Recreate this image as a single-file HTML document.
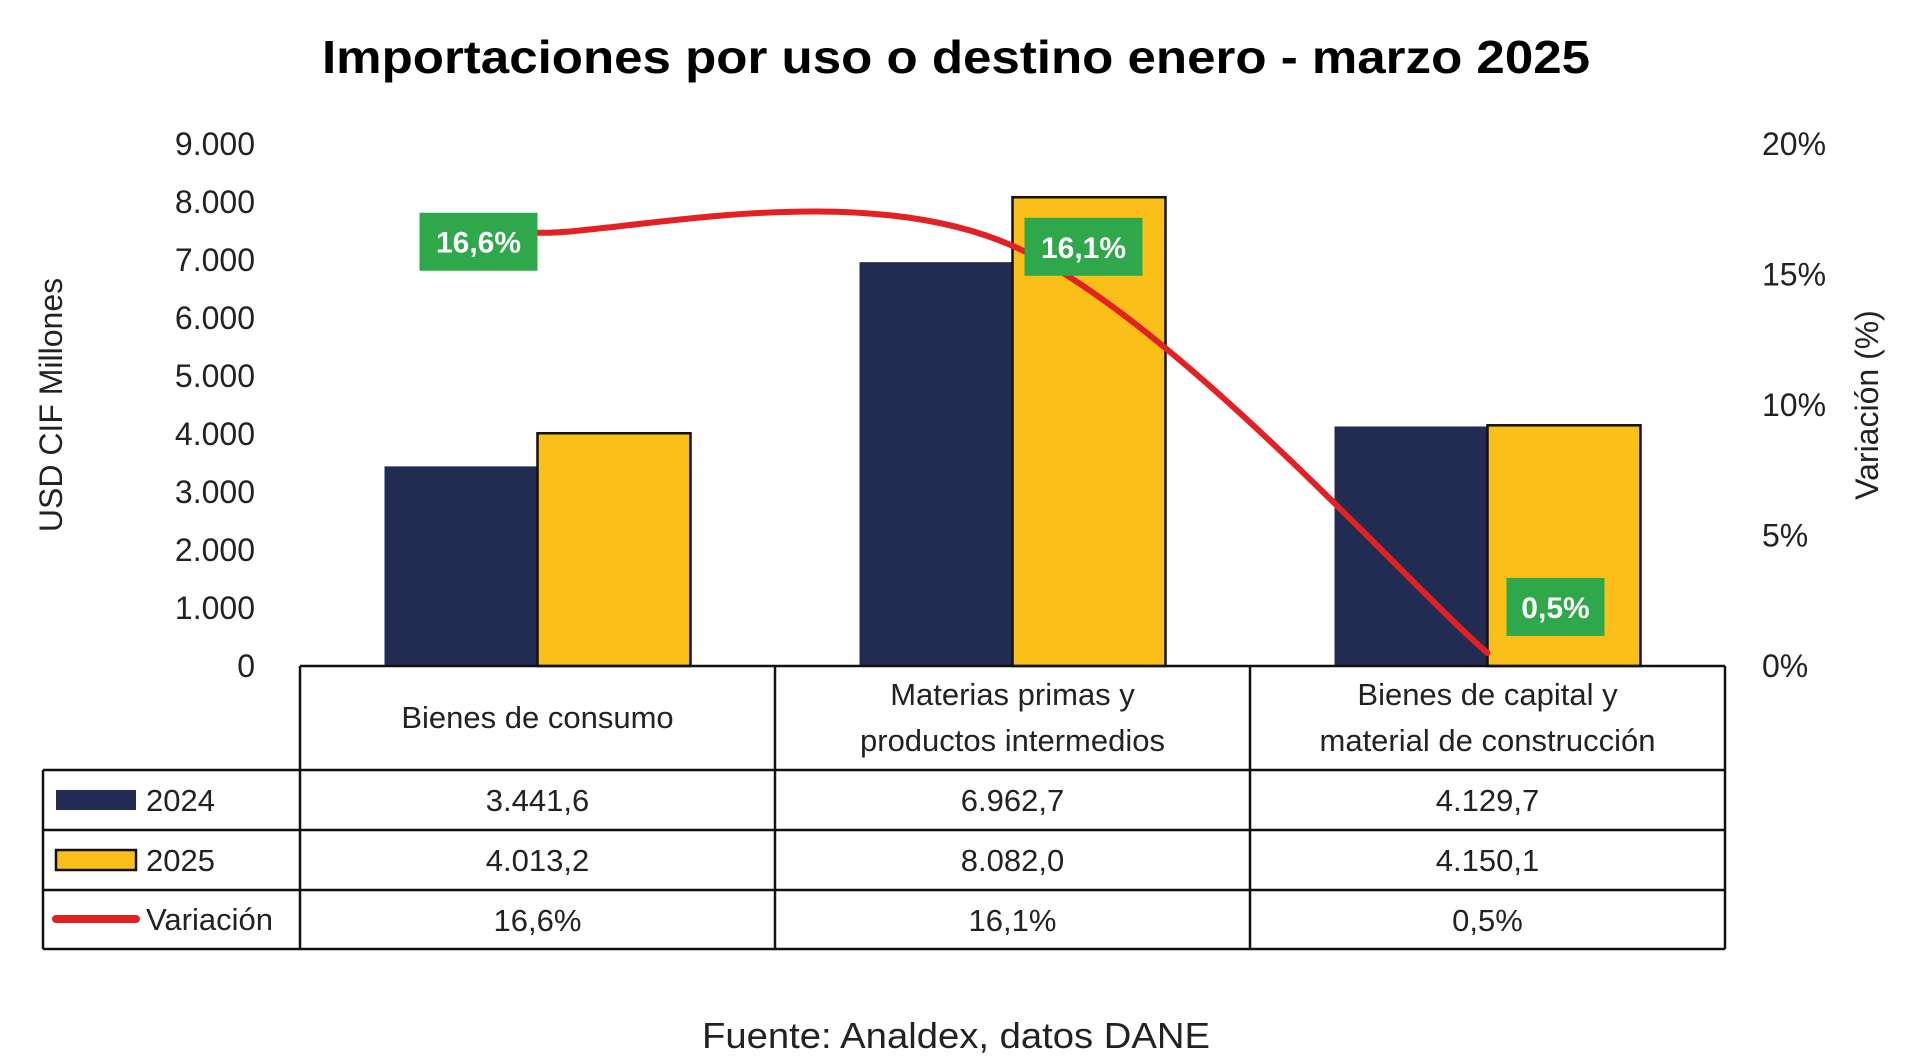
<!DOCTYPE html>
<html><head><meta charset="utf-8"><style>
html,body{margin:0;padding:0;background:#fff;}
svg{display:block;font-family:"Liberation Sans",sans-serif;}
</style></head><body>
<svg id="chart" width="1915" height="1062" viewBox="0 0 1915 1062" xmlns="http://www.w3.org/2000/svg">
<text x="956" y="73" text-anchor="middle" font-size="46" font-weight="bold" textLength="1268" lengthAdjust="spacingAndGlyphs">Importaciones por uso o destino enero - marzo 2025</text>
<text transform="translate(62,405) rotate(-90)" text-anchor="middle" font-size="32" fill="#222">USD CIF Millones</text>
<text transform="translate(1878,405) rotate(-90)" text-anchor="middle" font-size="32" fill="#222">Variación (%)</text>
<text x="956" y="1048" text-anchor="middle" font-size="36" fill="#222" textLength="508" lengthAdjust="spacingAndGlyphs">Fuente: Analdex, datos DANE</text>
<g id="g"></g>
</svg>
<script>
const categories = [["Bienes de consumo"], ["Materias primas y","productos intermedios"], ["Bienes de capital y","material de construcción"]];
const values2024 = [3441.6, 6962.7, 4129.7];
const values2025 = [4013.2, 8082.0, 4150.1];
const variation = [16.6, 16.1, 0.5];
const leftTicks = [0,1000,2000,3000,4000,5000,6000,7000,8000,9000];
const rightTicks = [0,5,10,15,20];
const t2024 = ["3.441,6","6.962,7","4.129,7"];
const t2025 = ["4.013,2","8.082,0","4.150,1"];
const tVar = ["16,6%","16,1%","0,5%"];

const NS="http://www.w3.org/2000/svg";
const g=document.getElementById('g');
function el(tag,attrs,parent){const e=document.createElementNS(NS,tag);for(const k in attrs)e.setAttribute(k,attrs[k]);(parent||g).appendChild(e);return e;}
const Y0=666, YT=144, X0=300, X1=1725;
const y=v=>Y0-(v/9000)*(Y0-YT);
const y2=v=>Y0-(v/20)*(Y0-YT);
const colW=(X1-X0)/categories.length;
const cx=i=>X0+colW*(i+0.5);
const BW=153;

leftTicks.forEach(t=>{
  const e=el('text',{x:255,y:y(t)+11,'text-anchor':'end','font-size':32,fill:'#222'});
  
  
  e.textContent=t===0?'0':(t/1000)+'.000';
});
rightTicks.forEach(t=>{
  const e=el('text',{x:1762,y:y2(t)+11,'font-size':32,fill:'#222'});
  
  
  e.textContent=t+'%';
});

categories.forEach((c,i)=>{
  const b1=el('rect',{x:cx(i)-BW,y:y(values2024[i]),width:BW,height:Y0-y(values2024[i]),fill:'#222b52'});
  
  
  const b2=el('rect',{x:cx(i),y:y(values2025[i]),width:BW,height:Y0-y(values2025[i]),fill:'#fbbf1a',stroke:'#111','stroke-width':2.5});
  
  
});

// smoothed line (Catmull-Rom)
const pts=variation.map((v,i)=>[cx(i),y2(v)]);
let d='M'+pts[0][0]+','+pts[0][1];
for(let i=0;i<pts.length-1;i++){
  const p0=pts[i-1]||pts[i],p1=pts[i],p2=pts[i+1],p3=pts[i+2]||pts[i+1];
  const c1=[p1[0]+(p2[0]-p0[0])/6,p1[1]+(p2[1]-p0[1])/6];
  const c2=[p2[0]-(p3[0]-p1[0])/6,p2[1]-(p3[1]-p1[1])/6];
  d+=' C'+c1+' '+c2+' '+p2;
}
const ln=el('path',{d:d,fill:'none',stroke:'#e32124','stroke-width':6,'stroke-linecap':'round'});



const offs=[[-118,-20],[12,-28],[19,-75]];
pts.forEach((p,i)=>{
  const bx=p[0]+offs[i][0], by=p[1]+offs[i][1];
  const w=i===2?98:118, h=58;
  const r=el('rect',{x:bx,y:by,width:w,height:h,fill:'#2ea84a'});
  
  
  const t=el('text',{x:bx+w/2,y:by+h/2+11,'text-anchor':'middle','font-size':30,'font-weight':'bold',fill:'#fff'});
  
  
  t.textContent=tVar[i];
});

// table
const rows=[666,770,830,890,949];
const tbl=el('g',{stroke:'#111','stroke-width':2.5});


el('line',{x1:X0,y1:rows[0],x2:X1,y2:rows[0]},tbl);
for(let r=1;r<rows.length;r++) el('line',{x1:43,y1:rows[r],x2:X1,y2:rows[r]},tbl);
el('line',{x1:43,y1:rows[1],x2:43,y2:rows[4]},tbl);
for(let i=0;i<=categories.length;i++) el('line',{x1:X0+colW*i,y1:rows[0],x2:X0+colW*i,y2:rows[4]},tbl);

categories.forEach((c,i)=>{
  c.forEach((line,k)=>{
    const ty=c.length===1?728:(705+k*46);
    const t=el('text',{x:cx(i),y:ty,'text-anchor':'middle','font-size':31,fill:'#222'});
    
    
    t.textContent=line;
  });
  [t2024,t2025,tVar].forEach((arr,r)=>{
    const t=el('text',{x:cx(i),y:rows[r+1]+41,'text-anchor':'middle','font-size':31,fill:'#222'});
    
    
    t.textContent=arr[i];
  });
});

const s1=el('rect',{x:56,y:790,width:80,height:20,fill:'#222b52'});


const s2=el('rect',{x:56,y:850,width:80,height:20,fill:'#fbbf1a',stroke:'#111','stroke-width':2.5});


const s3=el('line',{x1:56,y1:919,x2:136,y2:919,stroke:'#e32124','stroke-width':8,'stroke-linecap':'round'});


[['2024',811],['2025',871],['Variación',930]].forEach(([lbl,ty])=>{
  const t=el('text',{x:146,y:ty,'font-size':31,fill:'#222'});
  
  
  t.textContent=lbl;
});
</script>
</body></html>
